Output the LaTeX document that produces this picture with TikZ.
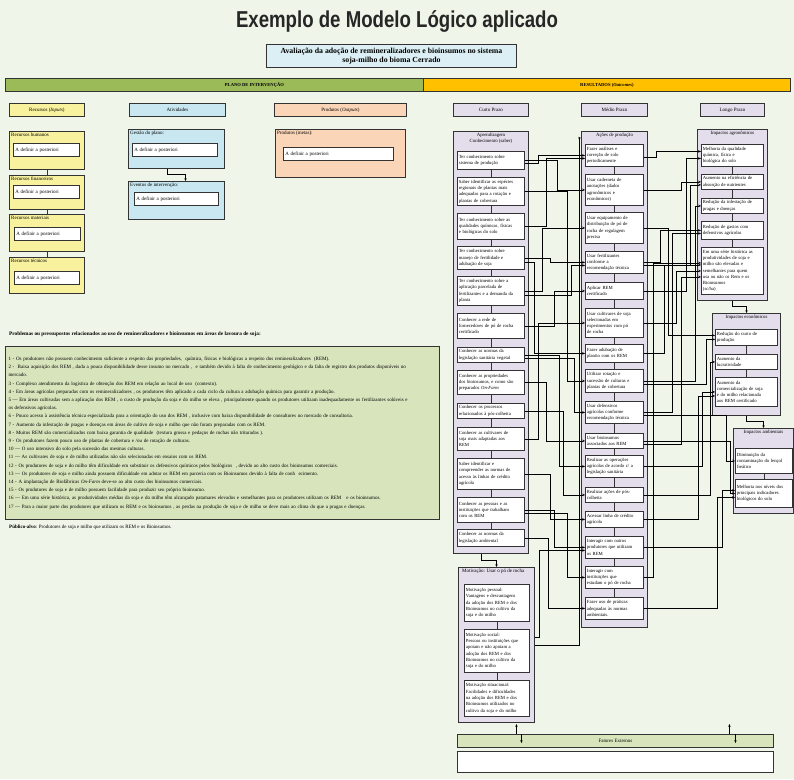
\documentclass[tikz,border=0pt]{standalone}
\usepackage{fontspec}
\setmainfont{Liberation Serif}
\newfontfamily\titlefont[FakeStretch=0.81]{Liberation Sans}
\usetikzlibrary{arrows.meta}

\definecolor{bgc}{HTML}{EFF5E8}
\definecolor{edgec}{HTML}{333333}
\definecolor{yelc}{HTML}{F8F29E}
\definecolor{bluc}{HTML}{C8E7F1}
\definecolor{pchc}{HTML}{FBD5B7}
\definecolor{lavc}{HTML}{E4DEEC}
\definecolor{grnbar}{HTML}{9BBB59}
\definecolor{orgbar}{HTML}{FFC000}
\definecolor{olvc}{HTML}{D8E4BC}
\definecolor{subc}{HTML}{DCEFF4}

\begin{document}
\begin{tikzpicture}[x=1pt, y=-1pt,
  bar/.style={draw=edgec, line width=0.9pt, anchor=north west, minimum height=13pt, inner sep=0pt, font=\bfseries\fontsize{4.6}{5}\selectfont},
  hdr/.style={draw=edgec, line width=0.9pt, anchor=north west, minimum height=13pt, inner sep=0pt, font=\fontsize{5}{6}\selectfont},
  ingrp/.style={draw=edgec, line width=1pt, anchor=north west, inner sep=0pt},
  inbox/.style={draw=edgec, line width=0.9pt, fill=white, anchor=north west, align=left, inner xsep=2pt, inner ysep=1pt, minimum height=13pt, font=\fontsize{5}{6}\selectfont},
  grp/.style={draw=edgec, line width=1pt, fill=lavc, anchor=north west, inner sep=0pt},
  ttl/.style={anchor=north, align=center, inner sep=2pt, font=\fontsize{4.8}{6.2}\selectfont},
  ttll/.style={anchor=north west, inner sep=2pt, font=\fontsize{5}{6}\selectfont},
  cbox/.style={draw=edgec, line width=0.85pt, fill=white, anchor=north west, align=left, inner xsep=1.5pt, inner ysep=1pt, font=\fontsize{4.7}{6.3}\selectfont},
  curbox/.style={cbox, text width=64pt},
  medbox/.style={cbox, text width=55pt},
  lngbox/.style={cbox, text width=59pt},
  ambbox/.style={cbox, text width=54pt},
  motbox/.style={cbox, text width=62pt},
  link/.style={draw=edgec, line width=0.8pt},
  wire/.style={line width=0.65pt, -{Stealth[length=2.8pt,width=2.4pt]}}]

\useasboundingbox (0,0) rectangle (794,779);
\fill[bgc] (0,0) rectangle (794,779);

% titulo
\node[font=\titlefont\bfseries\fontsize{23}{26}\selectfont, text=black!85, inner sep=0pt] (title) at (397,22) {Exemplo de Modelo Lógico aplicado};
\node[draw=edgec, line width=0.9pt, fill=subc, anchor=north west, minimum width=250pt, minimum height=23pt, inner sep=0pt, align=center, font=\bfseries\fontsize{7.8}{9.5}\selectfont] (sub) at (266,44) {Avaliação da adoção de remineralizadores e bioinsumos no sistema\\soja-milho do bioma Cerrado};

\node[bar, fill=grnbar, minimum width=418pt] (plan) at (5,78) {\hspace*{80pt}PLANO DE INTERVENÇÃO};
\node[bar, fill=orgbar, minimum width=367pt] (res) at (423,78) {RESULTADOS (\textit{Outcomes})};

% cabecalhos
\node[hdr, fill=yelc, minimum width=75pt] (hRec) at (9,103) {Recursos (\textit{Inputs})};
\node[hdr, fill=bluc, minimum width=96pt] (hAtv) at (129,103) {Atividades};
\node[hdr, fill=pchc, minimum width=132pt] (hProd) at (274,103) {Produtos (\textit{Outputs})};
\node[hdr, fill=lavc, minimum width=75pt] (hCurto) at (453,103) {Curto Prazo};
\node[hdr, fill=lavc, minimum width=66pt] (hMedio) at (581,103) {Médio Prazo};
\node[hdr, fill=lavc, minimum width=64pt] (hLongo) at (700,103) {Longo Prazo};

% recursos
\node[ingrp, fill=yelc, minimum width=75pt, minimum height=38pt, label={[ttll]north west:Recursos humanos}] (R1) at (9,131) {};
\node[inbox, text width=62pt] (R1a) at (13,143) {A definir a posteriori};
\node[ingrp, fill=yelc, minimum width=75pt, minimum height=34pt, label={[ttll]north west:Recursos financeiros}] (R2) at (9,175) {};
\node[inbox, text width=62pt] (R2a) at (13,185) {A definir a posteriori};
\node[ingrp, fill=yelc, minimum width=75pt, minimum height=37pt, label={[ttll]north west:Recursos materiais}] (R3) at (9,214) {};
\node[inbox, text width=62pt] (R3a) at (14,227) {A definir a posteriori};
\node[ingrp, fill=yelc, minimum width=75pt, minimum height=36pt, label={[ttll]north west:Recursos técnicos}] (R4) at (9,257) {};
\node[inbox, text width=61pt] (R4a) at (14,271) {A definir a posteriori};
\draw[link] (R1.south) -- (R2.north) (R2.south) -- (R3.north) (R3.south) -- (R4.north);

% atividades
\node[ingrp, fill=bluc, minimum width=96pt, minimum height=39pt, label={[ttll]north west:{Gestão do plano:}}] (A1) at (128,129) {};
\node[inbox, text width=81pt] (A1a) at (132,143) {A definir a posteriori};
\node[ingrp, fill=bluc, minimum width=96pt, minimum height=38pt, label={[ttll]north west:{Eventos de intervenção:}}] (A2) at (128,181) {};
\node[inbox, text width=80pt] (A2a) at (134,192) {A definir a posteriori};
\draw[wire] ([xshift=-9pt]A1.south) -- ++(0,5) -| ([xshift=9pt]A2.north);

% produtos
\node[ingrp, fill=pchc, minimum width=130pt, minimum height=48pt, label={[ttll]north west:{Produtos (metas):}}] (P1) at (275,129) {};
\node[inbox, text width=106pt] (P1a) at (283,147) {A definir a posteriori};

% problemas
\node[anchor=west, inner sep=0pt, font=\bfseries\fontsize{5.3}{6}\selectfont] (probT) at (9,334) {Problemas ou pressupostos relacionados ao uso de remineralizadores e bioinsumos em áreas de lavoura de soja:};
\node[draw=edgec, line width=1.1pt, fill=olvc, anchor=north west, minimum width=434pt, minimum height=173pt, inner xsep=3pt, text width=428pt, align=left, font=\fontsize{5}{8.2}\selectfont] (prob) at (5,346) {%
1 - Os produtores não possuem conhecimento suficiente a respeito das propriedades,\ \ química, físicas e biológicas a respeito dos remineralizadores\ \ (REM).\\
2 - \ Baixa aquisição dos REM , dada a pouca disponibilidade desse insumo no mercado ,\ \ e também devido à falta de conhecimento geológico e da falta de registro dos produtos disponíveis no\\
mercado.\\
3 - Complexo atendimento da logística de obtenção dos REM em relação ao local de uso\ \ (contexto).\\
4 - Em áreas agrícolas preparadas com os remineralizadores , os produtores têm aplicado a cada ciclo da cultura a adubação química para garantir a produção.\\
5 — Em áreas cultivadas sem a aplicação dos REM , o custo de produção da soja e do milho se eleva , principalmente quando os produtores utilizam inadequadamente os fertilizantes solúveis e\\
os defensivos agrícolas.\\
6 - Pouco acesso à assistência técnica especializada para a orientação do uso dos REM , inclusive com baixa disponibilidade de consultores no mercado de consultoria.\\
7 - Aumento da infestação de pragas e doenças em áreas de cultivo de soja e milho que não foram preparadas com os REM.\\
8 - Muitos REM são comercializados com baixa garantia de qualidade\ \ (textura grossa e pedaços de rochas não trituradas ).\\
9 - Os produtores fazem pouco uso de plantas de cobertura e /ou de rotação de culturas.\\
10 — O uso intensivo do solo pela sucessão das mesmas culturas.\\
11 — As cultivares de soja e de milho utilizadas não são selecionadas em ensaios com os REM.\\
12 - Os produtores de soja e do milho têm dificuldade em substituir os defensivos químicos pelos biológicos\ \ , devido ao alto custo dos bioinsumos comerciais.\\
13 — Os produtores de soja e milho ainda possuem dificuldade em adotar os REM em parceria com os Bioinsumos devido à falta de conh\ \ ecimento.\\
14 - A implantação de Biofábricas \textit{On-Farm} deve-se ao alto custo dos bioinsumos comerciais.\\
15 - Os produtores de soja e de milho possuem facilidade para produzir seu próprio bioinsumo.\\
16 — Em uma série histórica, as produtividades médias da soja e do milho têm alcançado patamares elevados e semelhantes para os produtores utilizam os REM\ \ \ e os bioinsumos.\\
17 — Para a maior parte dos produtores que utilizam os REM e os bioinsumos , as perdas na produção de soja e de milho se deve mais ao clima do que a pragas e doenças.};
\node[anchor=west, inner sep=0pt, font=\fontsize{5}{6}\selectfont] (pub) at (9,527) {\textbf{Público-alvo}: Produtores de soja e milho que utilizam os REM e os Bioinsumos.};

% curto prazo
\node[grp, minimum width=75pt, minimum height=422pt, label={[ttl]north:Aprendizagem\\Conhecimento (saber)}] (curtoGrp) at (453,131) {};
\node[curbox, minimum height=18pt] (C1) at (457,151) {Ter conhecimento sobre\\sistema de produção};
\node[curbox, minimum height=28pt] (C2) at (457,177) {Saber identificar as espécies\\regionais de plantas mais\\adequadas para a rotação e\\plantas de cobertura};
\node[curbox, minimum height=26pt] (C3) at (457,213) {Ter conhecimento sobre as\\qualidades químicas, físicas\\e biológicas do solo};
\node[curbox, minimum height=23pt] (C4) at (457,246) {Ter conhecimento sobre\\manejo de fertilidade e\\adubação de soja};
\node[curbox, minimum height=29pt] (C5) at (457,276) {Ter conhecimento sobre a\\aplicação parcelada de\\fertilizantes e a demanda da\\planta};
\node[curbox, minimum height=25pt] (C6) at (457,313) {Conhecer a rede de\\fornecedores de pó de rocha\\certificado};
\node[curbox, minimum height=15pt] (C7) at (457,347) {Conhecer as normas da\\legislação sanitária vegetal};
\node[curbox, minimum height=24pt] (C8) at (457,370) {Conhecer as propriedades\\dos bioinsumos, e como são\\preparados \textit{On-Farm}};
\node[curbox, minimum height=15pt] (C9) at (457,403) {Conhecer os processos\\relacionados à pós-colheita};
\node[curbox, minimum height=23pt] (C10) at (457,427) {Conhecer as cultivares de\\soja mais adaptadas aos\\REM};
\node[curbox, minimum height=31pt] (C11) at (457,458) {Saber identificar e\\compreender as normas de\\acesso às linhas de crédito\\agrícola};
\node[curbox, minimum height=25pt] (C12) at (457,497) {Conhecer as pessoas e as\\instituições que trabalham\\com os REM};
\node[curbox, minimum height=17pt] (C13) at (457,529) {Conhecer as normas da\\legislação ambiental};
\draw[link] (C1.south) -- (C2.north) (C2.south) -- (C3.north) (C3.south) -- (C4.north)
  (C4.south) -- (C5.north) (C5.south) -- (C6.north) (C6.south) -- (C7.north)
  (C7.south) -- (C8.north) (C8.south) -- (C9.north) (C9.south) -- (C10.north)
  (C10.south) -- (C11.north) (C11.south) -- (C12.north) (C12.south) -- (C13.north);

% motivacao
\node[grp, minimum width=76pt, minimum height=155pt, label={[ttll, xshift=2pt]north west:{Motivação: Usar o pó de rocha}}] (motGrp) at (458,567) {};
\node[motbox, minimum height=37pt] (M1) at (464,584) {Motivação pessoal:\\Vantagens e desvantagens\\da adoção dos REM e dos\\Bioinsumos no cultivo da\\soja e do milho};
\node[motbox, minimum height=43pt] (M2) at (464,629) {Motivação social:\\Pessoas ou instituições que\\apoiam e não apoiam a\\adoção dos REM e dos\\Bioinsumos no cultivo da\\soja e do milho};
\node[motbox, minimum height=36pt] (M3) at (464,680) {Motivação situacional:\\Facilidades e dificuldades\\na adoção dos REM e dos\\Bioinsumos utilizados no\\cultivo da soja e do milho};
\draw[link] (M1.south) -- (M2.north) (M2.south) -- (M3.north);
\draw[wire] ([xshift=-10pt]curtoGrp.south) -- ++(0,6) -| (motGrp.north);

% medio prazo
\node[grp, minimum width=66pt, minimum height=496pt, label={[ttl]north:Ações de produção}] (acoesGrp) at (581,131) {};
\node[medbox, minimum height=22pt] (D1) at (585,144) {Fazer análises e\\correção de solo\\periodicamente};
\node[medbox, minimum height=31pt] (D2) at (585,174) {Usar caderneta de\\anotações (dados\\agronômicos e\\econômicos)};
\node[medbox, minimum height=31pt] (D3) at (585,212) {Usar equipamento de\\distribuição de pó de\\rocha de regulagem\\precisa};
\node[medbox, minimum height=22pt] (D4) at (585,251) {Usar fertilizantes\\conforme a\\recomendação técnica};
\node[medbox, minimum height=17pt] (D5) at (585,282) {Aplicar REM\\certificado};
\node[medbox, minimum height=29pt] (D6) at (585,308) {Usar cultivares de soja\\selecionadas em\\experimentos com pó\\de rocha};
\node[medbox, minimum height=18pt] (D7) at (585,344) {Fazer adubação de\\plantio com os REM};
\node[medbox, minimum height=23pt] (D8) at (585,369) {Utilizar rotação e\\sucessão de culturas e\\plantas de cobertura};
\node[medbox, minimum height=22pt] (D9) at (585,401) {Usar defensivos\\agrícolas conforme\\recomendação técnica};
\node[medbox, minimum height=15pt] (D10) at (585,433) {Usar bioinsumos\\associados aos REM};
\node[medbox, minimum height=22pt] (D11) at (585,455) {Realizar as operações\\agrícolas de acordo c/ a\\legislação sanitária};
\node[medbox, minimum height=15pt] (D12) at (585,487) {Realizar ações de pós-\\colheita};
\node[medbox, minimum height=16pt] (D13) at (585,511) {Acessar linha de crédito\\agrícola};
\node[medbox, minimum height=22pt] (D14) at (585,536) {Interagir com outros\\produtores que utilizam\\os REM};
\node[medbox, minimum height=22pt] (D15) at (585,566) {Interagir com\\instituições que\\estudam o pó de rocha};
\node[medbox, minimum height=22pt] (D16) at (585,597) {Fazer uso de práticas\\adequadas às normas\\ambientais.};
\draw[link] (D1.south) -- (D2.north) (D2.south) -- (D3.north) (D3.south) -- (D4.north)
  (D4.south) -- (D5.north) (D5.south) -- (D6.north) (D6.south) -- (D7.north)
  (D7.south) -- (D8.north) (D8.south) -- (D9.north) (D9.south) -- (D10.north)
  (D10.south) -- (D11.north) (D11.south) -- (D12.north) (D12.south) -- (D13.north)
  (D13.south) -- (D14.north) (D14.south) -- (D15.north) (D15.south) -- (D16.north);

% longo prazo
\node[grp, minimum width=70pt, minimum height=171pt, label={[ttl]north:Impactos agronômicos}] (agroGrp) at (697,129) {};
\node[lngbox, minimum height=22pt] (L1) at (701,144) {Melhoria da qualidade\\química, física e\\biológica do solo};
\node[lngbox, minimum height=15pt] (L2) at (701,174) {Aumento na eficiência de\\absorção de nutrientes};
\node[lngbox, minimum height=15pt] (L3) at (701,198) {Redução da infestação de\\pragas e doenças};
\node[lngbox, minimum height=18pt] (L4) at (701,221) {Redução de gastos com\\defensivos agrícolas};
\node[lngbox, minimum height=47pt] (L5) at (701,247) {Em uma série histórica as\\produtividades de soja e\\milho são elevadas e\\semelhantes para quem\\usa ou não os Rem e os\\Bioinsumos\\(sc/ha)};
\draw[link] (L1.south) -- (L2.north) (L2.south) -- (L3.north) (L3.south) -- (L4.north) (L4.south) -- (L5.north);

\node[grp, minimum width=68pt, minimum height=102pt, label={[ttl]north:Impactos econômicos}] (econGrp) at (712,313) {};
\node[lngbox, minimum height=16pt] (E1) at (715,329) {Redução do custo de\\produção};
\node[lngbox, minimum height=15pt] (E2) at (715,354) {Aumento da\\lucratividade};
\node[lngbox, minimum height=29pt] (E3) at (715,377) {Aumento da\\comercialização de soja\\e do milho relacionada\\aos REM certificado};
\draw[link] (E1.south) -- (E2.north) (E2.south) -- (E3.north);

\node[grp, minimum width=60pt, minimum height=85pt, label={[ttl]north:Impactos ambientais}] (ambGrp) at (733,428) {};
\node[ambbox, minimum height=25pt] (AM1) at (735,448) {Diminuição da\\contaminação do lençol\\freático};
\node[ambbox, minimum height=28pt] (AM2) at (735,479) {Melhoria nos níveis dos\\principais indicadores\\biológicos do solo};
\draw[link] (AM1.south) -- (AM2.north);

\draw[wire] (agroGrp.south) -- ++(0,5) -| (econGrp.north);
\draw[wire] (econGrp.south) -- ++(0,5) -| (ambGrp.north);

% curto -> medio
\draw[wire] (C1.east) -- ++(32,0) |- (D2.west);
\draw[wire] ([yshift=-3pt]C1.east) -- ++(13,0) |- (D1.west);
\draw[wire] (C2.east) -- ++(42,0) |- (D8.west);
\draw[wire] (C3.east) -- ++(21,0) |- ([yshift=-3pt]D1.west);
\draw[wire] (C4.east) -- ++(25,0) |- (D4.west);
\draw[wire] ([yshift=-4pt]C4.east) -- ++(9,0) |- (D7.west);
\draw[wire] (C5.east) -- ++(17,0) |- (D3.west);
\draw[wire] ([yshift=-4pt]C5.east) -- ++(46,0) |- ([yshift=-3pt]D4.west);
\draw[wire] (C6.east) -- ++(29,0) |- (D5.west);
\draw[wire] (C7.east) -- ++(34,0) |- (D11.west);
\draw[wire] ([yshift=-3pt]C7.east) -- ++(49,0) |- (D9.west);
\draw[wire] (C8.east) -- ++(21,0) |- (D10.west);
\draw[wire] (C9.east) -- ++(38,0) |- (D12.west);
\draw[wire] (C10.east) -- ++(13,0) |- (D6.west);
\draw[wire] (C11.east) -- ++(25,0) |- (D13.west);
\draw[wire] (C12.east) -- ++(29,0) |- (D14.west);
\draw[wire] ([yshift=-3pt]C12.east) -- ++(42,0) |- (D15.west);
\draw[wire] (C13.east) -- ++(23,0) |- (D16.west);
\draw[wire] (motGrp.east) -- ++(44,0) |- ([yshift=-7pt]acoesGrp.north west);
\draw[wire] ([yshift=8pt]motGrp.east) -- ++(4,0) |- ([yshift=-3pt]D14.west);

% medio -> longo
\draw[wire] ([yshift=-2pt]D1.east) -- ++(12,0) |- ([yshift=4pt]L1.west);
\draw[wire] (D2.east) -- ++(37,0) |- (L2.west);
\draw[wire] (D3.east) -- ++(24,0) |- ([yshift=2pt]E1.west);
\draw[wire] (D4.east) -- ++(16,0) |- (L4.west);
\draw[wire] ([yshift=-3pt]D4.east) -- ++(46,0) |- ([yshift=-3pt]L2.west);
\draw[wire] (D5.east) -- ++(42,0) |- ([yshift=-3pt]L1.west);
\draw[wire] (D6.east) -- ++(32,0) |- (L5.west);
\draw[wire] (D7.east) -- ++(20,0) |- ([yshift=6pt]L5.west);
\draw[wire] (D8.east) -- ++(51,0) |- (L3.west);
\draw[wire] ([yshift=-3pt]D8.east) -- ++(62,0) |- ([yshift=-2pt]E1.west);
\draw[wire] (D9.east) -- ++(28,0) |- ([yshift=-3pt]L4.west);
\draw[wire] ([yshift=-3pt]D9.east) -- ++(82,0) |- (AM1.west);
\draw[wire] (D10.east) -- ++(86,0) |- (AM2.west);
\draw[wire] ([yshift=-3pt]D10.east) -- ++(37,0) |- ([yshift=-6pt]L5.west);
\draw[wire] (D11.east) -- ++(58,0) |- (E3.west);
\draw[wire] (D12.east) -- ++(66,0) |- (E2.west);
\draw[wire] (D13.east) -- ++(54,0) |- ([yshift=-4pt]E3.west);
\draw[wire] (D14.east) -- ++(78,0) |- ([yshift=3pt]AM2.west);
\draw[wire] (D15.east) -- ++(9,0) |- ([yshift=8pt]L5.west);
\draw[wire] (D16.east) -- ++(73,0) |- ([yshift=-4pt]AM2.west);

% fatores externos
\node[draw=edgec, line width=0.9pt, fill=olvc, anchor=north west, minimum width=316pt, minimum height=13pt, inner sep=0pt, font=\fontsize{5}{6}\selectfont] (fat) at (457,734) {Fatores Externos};
\node[draw=edgec, line width=0.9pt, fill=white, anchor=north west, minimum width=316pt, minimum height=21pt, inner sep=0pt] (fatBox) at (457,751) {};
\draw[wire] ([xshift=-99pt]fat.north) -- ++(0,-10);
\draw[wire] ([xshift=-94pt]fat.north) -- ++(0,9);
\draw[wire] ([xshift=114pt]fat.north) -- ++(0,-10);
\draw[wire] ([xshift=120pt]fat.north) -- ++(0,9);

\end{tikzpicture}
\end{document}
